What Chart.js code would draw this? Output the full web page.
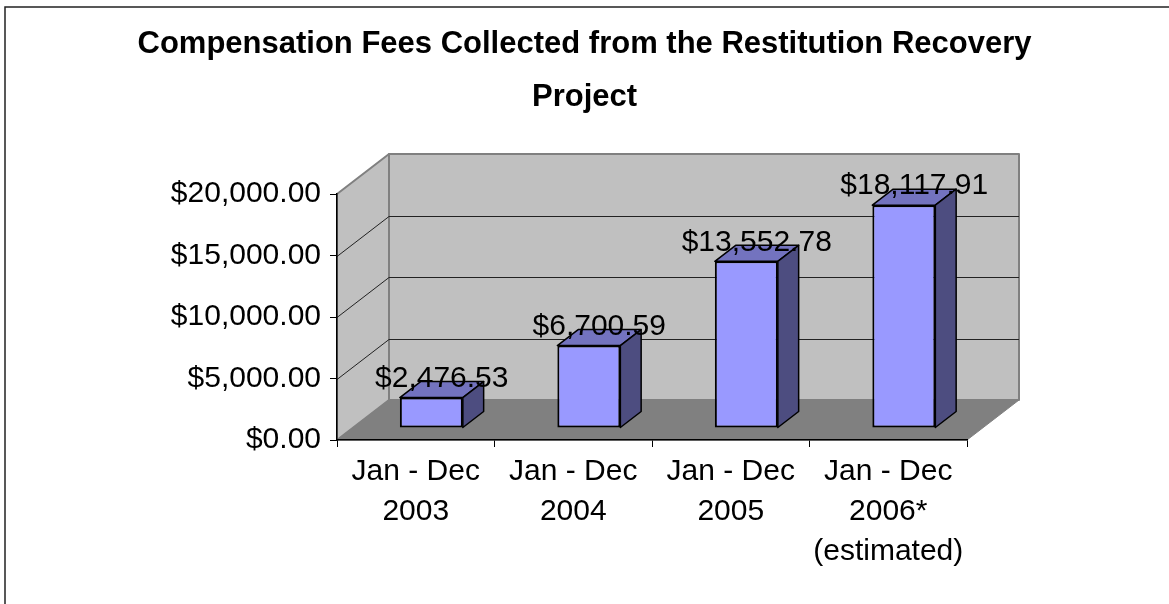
<!DOCTYPE html>
<html lang="en">
<head>
  <meta charset="UTF-8">
  <title>Compensation Fees Collected from the Restitution Recovery Project</title>
  <script src="https://cdn.jsdelivr.net/npm/chart.js@4.4.1/dist/chart.umd.min.js"></script>
  <style>
    html, body { margin: 0; padding: 0; background: #fff; }
    #feesChart { display: block; }
  </style>
</head>
<body>
  <canvas id="feesChart" width="1169" height="604"></canvas>
  <script>
    // values
    const titleLines = ['Compensation Fees Collected from the Restitution Recovery', 'Project'];
    const periodLabels = [
      ['Jan - Dec', '2003'],
      ['Jan - Dec', '2004'],
      ['Jan - Dec', '2005'],
      ['Jan - Dec', '2006*', '(estimated)']
    ];
    const feesCollected = [2476.53, 6700.59, 13552.78, 18117.91];
    const yTickValues = [0, 5000, 10000, 15000, 20000];

    const FONT = 'Arial, "Liberation Sans", sans-serif';
    // depth of the 3d box (back wall offset) and where the bars sit in it
    const DEPTH = { dx: 52, dy: -40 };
    const BAR_FRONT = 0.3, BAR_BACK = 0.7;

    const money = v => '$' + v.toLocaleString('en-US', { minimumFractionDigits: 2, maximumFractionDigits: 2 });

    function poly(ctx, pts, fill, stroke, lw) {
      ctx.beginPath();
      pts.forEach(([px, py], i) => i ? ctx.lineTo(px, py) : ctx.moveTo(px, py));
      ctx.closePath();
      ctx.fillStyle = fill;
      ctx.fill();
      if (stroke) {
        ctx.strokeStyle = stroke;
        ctx.lineWidth = lw || 1;
        ctx.lineJoin = 'round';
        ctx.stroke();
      }
    }

    const box3d = {
      id: 'box3d',
      beforeDraw(chart) {
        const { ctx, chartArea: a, scales: { y } } = chart;
        const top = y.getPixelForValue(y.max), bot = y.getPixelForValue(y.min);
        const L = a.left, R = a.right, dx = DEPTH.dx, dy = DEPTH.dy;
        ctx.save();
        // outer frame (right and bottom run off the picture)
        ctx.strokeStyle = '#222';
        ctx.lineWidth = 1.5;
        ctx.beginPath();
        ctx.moveTo(5, chart.height + 5);
        ctx.lineTo(5, 7);
        ctx.lineTo(chart.width + 5, 7);
        ctx.stroke();
        // side wall, back wall, floor
        poly(ctx, [[L, top], [L + dx, top + dy], [L + dx, bot + dy], [L, bot]], '#c0c0c0', '#808080', 2);
        poly(ctx, [[L + dx, top + dy], [R + dx, top + dy], [R + dx, bot + dy], [L + dx, bot + dy]], '#c0c0c0', '#808080', 2);
        poly(ctx, [[L, bot], [R, bot], [R + dx, bot + dy], [L + dx, bot + dy]], '#808080', '#808080', 1);
        // gridlines on the walls
        ctx.strokeStyle = '#222';
        ctx.lineWidth = 1;
        y.ticks.forEach(t => {
          if (t.value === y.min || t.value === y.max) return;
          const py = Math.round(y.getPixelForValue(t.value)) + 0.5;
          ctx.beginPath();
          ctx.moveTo(L, py);
          ctx.lineTo(L + dx, py + dy);
          ctx.lineTo(R + dx, py + dy);
          ctx.stroke();
        });
        ctx.restore();
      },
      beforeDatasetsDraw(chart) {
        chart.ctx.save();
        chart.ctx.translate(DEPTH.dx * BAR_FRONT, DEPTH.dy * BAR_FRONT);
      },
      afterDatasetsDraw(chart) {
        const ctx = chart.ctx;
        const bdx = DEPTH.dx * (BAR_BACK - BAR_FRONT), bdy = DEPTH.dy * (BAR_BACK - BAR_FRONT);
        const bars = chart.getDatasetMeta(0).data;
        bars.forEach(bar => {
          const { x, y, base, width } = bar.getProps(['x', 'y', 'base', 'width'], true);
          const l = x - width / 2, r = x + width / 2;
          poly(ctx, [[l, y], [r, y], [r + bdx, y + bdy], [l + bdx, y + bdy]], '#7373bf', '#000', 1.5);
          poly(ctx, [[r, y], [r + bdx, y + bdy], [r + bdx, base + bdy], [r, base]], '#4d4d80', '#000', 1.5);
        });
        // value labels
        ctx.fillStyle = '#000';
        ctx.font = '30px ' + FONT;
        ctx.textAlign = 'center';
        ctx.textBaseline = 'middle';
        bars.forEach((bar, i) => {
          const { x, y } = bar.getProps(['x', 'y'], true);
          ctx.fillText(money(feesCollected[i]), x + bdx / 2, y - 19);
        });
        ctx.restore();
      }
    };

    new Chart(document.getElementById('feesChart'), {
      type: 'bar',
      data: {
        labels: periodLabels,
        datasets: [{
          data: feesCollected,
          backgroundColor: '#9999ff',
          borderColor: '#000',
          borderWidth: 2,
          borderSkipped: false,
          barPercentage: 0.4,
          categoryPercentage: 1.0,
          clip: false
        }]
      },
      options: {
        responsive: false,
        animation: false,
        devicePixelRatio: 1,
        layout: { padding: 0 },
        plugins: {
          legend: { display: false },
          tooltip: { enabled: false },
          title: {
            display: true,
            text: titleLines,
            color: '#000',
            font: { family: FONT, size: 31, weight: 'bold', lineHeight: 1.71 },
            padding: { top: 17.5, bottom: 70.5 }
          }
        },
        scales: {
          x: {
            grid: { drawOnChartArea: false, drawTicks: true, tickLength: 7, tickColor: '#000', offset: true },
            border: { display: true, color: '#000', width: 1.5 },
            ticks: { color: '#000', font: { family: FONT, size: 30, lineHeight: 1.333 }, padding: 5, maxRotation: 0, autoSkip: false },
            afterFit(s) { s.height = 164; }
          },
          y: {
            min: yTickValues[0],
            max: yTickValues[yTickValues.length - 1],
            grid: { drawOnChartArea: false, drawTicks: true, tickLength: 7, tickColor: '#000' },
            border: { display: true, color: '#000', width: 1.5 },
            ticks: { color: '#000', font: { family: FONT, size: 30 }, padding: 9, callback: v => money(v) },
            afterBuildTicks(s) { s.ticks = yTickValues.map(v => ({ value: v })); },
            afterFit(s) { s.width = 337; }
          },
          // empty right-hand strip so the plot box stops short of the right edge
          // while the title stays centred on the whole picture
          rightSpace: {
            type: 'linear',
            position: 'right',
            grid: { display: false },
            border: { display: false },
            ticks: { display: false },
            afterFit(s) { s.width = 202; }
          }
        }
      },
      plugins: [box3d]
    });
  </script>
</body>
</html>
